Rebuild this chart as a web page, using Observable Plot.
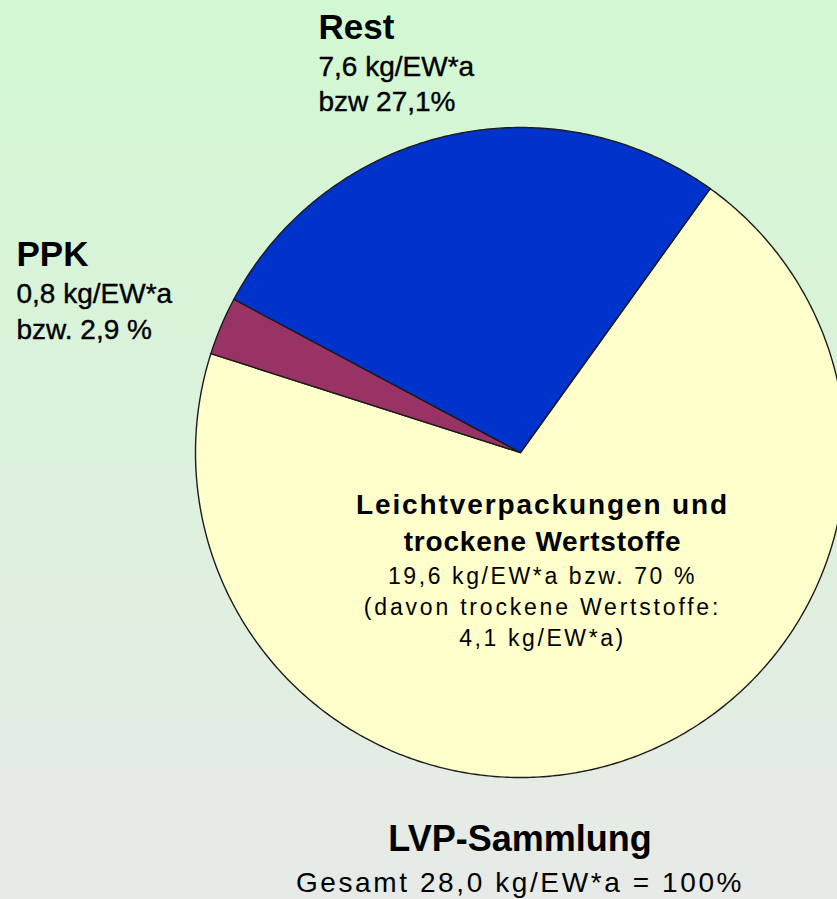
<!DOCTYPE html>
<html>
<head>
<meta charset="utf-8">
<script src="https://cdn.jsdelivr.net/npm/d3@7"></script>
<script src="https://cdn.jsdelivr.net/npm/@observablehq/plot@0.6"></script>
<style>
  html, body { margin: 0; padding: 0; overflow: hidden; }
  #wrap {
    position: relative; width: 837px; height: 899px; overflow: hidden;
    background: linear-gradient(#D2F8D2, #E7EAE7);
    font-family: Arial, "Liberation Sans", sans-serif; color: #000;
  }
  #chart svg { display: block; }
  #cap { box-sizing: border-box; padding-left: 203px; width: 837px; text-align: center; }
  #cap .t1 { font-size: 36px; font-weight: bold; line-height: 36px; margin-top: 16px; }
  #cap .t2 { font-size: 28px; line-height: 28px; margin-top: 12px; letter-spacing: 2.6px; }
</style>
</head>
<body>
<div id="wrap">
  <div id="chart"></div>
  <div id="cap">
    <div class="t1" id="title"></div>
    <div class="t2" id="subtitle"></div>
  </div>
</div>
<script>
// ---- data ----
const categories = ["Leichtverpackungen und trockene Wertstoffe", "PPK", "Rest"];
const kgPerInhabitant = [19.6, 0.8, 7.6];
const sharePercent = [70, 2.9, 27.1];
const sliceColors = ["#FFFFCC", "#993366", "#0033CC"];

const outerTitles = ["Rest", "PPK"];
const outerLine1 = ["7,6 kg/EW*a", "0,8 kg/EW*a"];
const outerLine2 = ["bzw 27,1%", "bzw. 2,9 %"];
const innerTitles = ["Leichtverpackungen und", "trockene Wertstoffe"];
const innerLines = ["19,6 kg/EW*a bzw. 70 %", "(davon trockene Wertstoffe:", "4,1 kg/EW*a)"];
const chartTitle = "LVP-Sammlung";
const chartSubtitle = "Gesamt 28,0 kg/EW*a = 100%";

// ---- layout ----
const W = 837, H = 805;
const CX = 520, CY = 452, R = 325;
const startDeg = 35.7;
const px = (x) => (x - CX) / R;
const py = (y) => (CY - y) / R;

// pie geometry from the data
const slices = categories.map((name, i) => ({name, value: sharePercent[i], kg: kgPerInhabitant[i]}));
const arcs = d3.pie().value(d => d.value).sort(null)
  .startAngle(startDeg * Math.PI / 180)
  .endAngle(startDeg * Math.PI / 180 + 2 * Math.PI)(slices);
const pts = [];
for (const a of arcs) {
  pts.push({name: a.data.name, x: 0, y: 0});
  const n = Math.max(8, Math.ceil((a.endAngle - a.startAngle) / 0.01));
  for (let k = 0; k <= n; k++) {
    const t = a.startAngle + (a.endAngle - a.startAngle) * k / n;
    pts.push({name: a.data.name, x: Math.sin(t), y: Math.cos(t)});
  }
}

// label rows (pixel layout -> data coords)
const outerPos = [{left: 318, base: [38, 75, 110]}, {left: 16, base: [265, 302, 338]}];
const bold35 = [], reg28 = [];
outerTitles.forEach((t, i) => {
  const p = outerPos[i];
  bold35.push({text: t, x: px(p.left), y: py(p.base[0] - 0.32 * 35)});
  reg28.push({text: outerLine1[i], x: px(p.left), y: py(p.base[1] - 0.32 * 28)});
  reg28.push({text: outerLine2[i], x: px(p.left), y: py(p.base[2] - 0.32 * 28)});
});
const innerX = 542;
const innerBoldBase = [513, 550];
const innerRegBase = [583, 614, 645];
const innerBold = innerTitles.map((t, i) => ({text: t, x: px(innerX), y: py(innerBoldBase[i] - 0.32 * 28)}));
const innerReg = innerLines.map((t, i) => ({text: t, x: px(innerX), y: py(innerRegBase[i] - 0.32 * 23)}));

const font = "Arial, 'Liberation Sans', sans-serif";
const plot = Plot.plot({
  width: W, height: H,
  margin: 0,
  style: {background: "transparent", fontFamily: font, overflow: "hidden"},
  x: {domain: [-1, 1], range: [CX - R, CX + R], axis: null},
  y: {domain: [-1, 1], range: [CY + R, CY - R], axis: null},
  color: {domain: categories, range: sliceColors},
  marks: [
    Plot.line(pts, {x: "x", y: "y", z: "name", fill: "name", stroke: "#1c1c1c", strokeWidth: 1.4, curve: "linear-closed"}),
    Plot.text(bold35, {x: "x", y: "y", text: "text", textAnchor: "start", fontSize: 35, fontWeight: "bold", fill: "#000"}),
    Plot.text(reg28, {x: "x", y: "y", text: "text", textAnchor: "start", fontSize: 28, fill: "#000", stroke: "#000", strokeWidth: 0.4}),
    Plot.text(innerBold, {x: "x", y: "y", text: "text", textAnchor: "middle", fontSize: 28, fontWeight: "bold", fill: "#000"}),
    Plot.text(innerReg, {x: "x", y: "y", text: "text", textAnchor: "middle", fontSize: 23, fill: "#000"})
  ]
});
// letter spacing of the slice label (style only)
const spacing = new Map([
  [innerTitles[0], 1.9], [innerTitles[1], 0.8],
  [innerLines[0], 2.6], [innerLines[1], 2.8], [innerLines[2], 2.6]
]);
d3.select(plot).selectAll("text").each(function () {
  const s = spacing.get(this.textContent);
  if (s != null) this.style.letterSpacing = s + "px";
});
document.getElementById("chart").appendChild(plot);
document.getElementById("title").textContent = chartTitle;
document.getElementById("subtitle").textContent = chartSubtitle;
</script>
</body>
</html>
